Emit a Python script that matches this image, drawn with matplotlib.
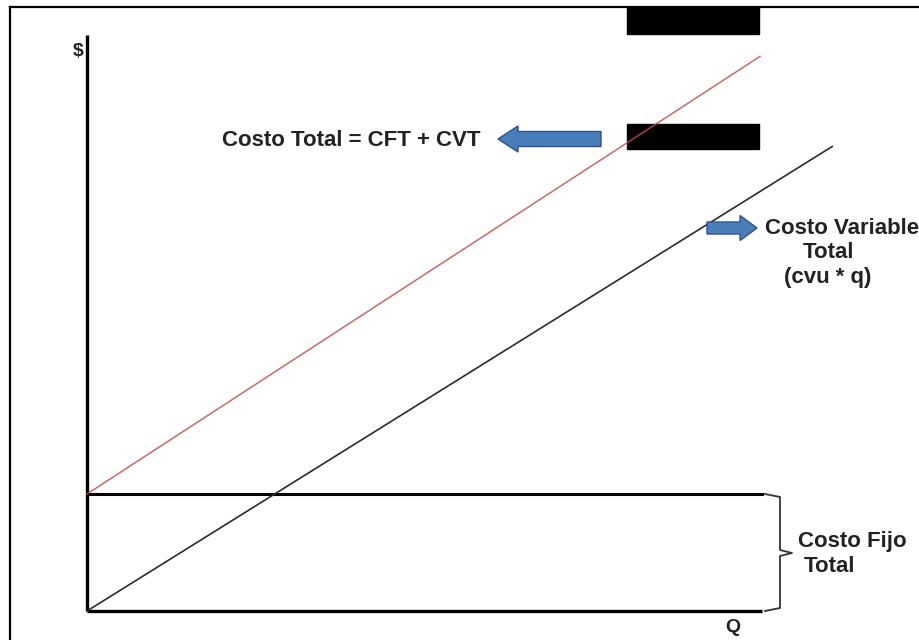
import matplotlib.pyplot as plt
from matplotlib.patches import FancyArrow, Rectangle
from matplotlib.lines import Line2D

# quantities and costs (q in units, $ in units)
q_max = 10.0
y_max = 49.2
cf_total = 10.0
ct_q = [0.0, 9.97]
ct_val = [10.0, 47.4]
cvt_q = [0.0, 11.04]
cvt_val = [0.0, 39.7]

label_ct = "Costo Total = CFT + CVT"
label_cvt = ["Costo Variable", "Total", "(cvu * q)"]
label_cf = ["Costo Fijo", "Total"]

# pixel layout of the diagram
W, H = 920, 640
x0_px, y0_px = 87, 611
px_per_q, px_per_d = 67.5, 11.7

plt.rcParams['font.family'] = ['Liberation Sans', 'DejaVu Sans']
fig = plt.figure(figsize=(W / 100, H / 100), dpi=100)
ax = fig.add_axes([0, 0, 1, 1])
ax.set_xlim(-x0_px / px_per_q, (W - x0_px) / px_per_q)
ax.set_ylim((y0_px - H) / px_per_d, y0_px / px_per_d)
ax.axis('off')

def qx(px):
    return (px - x0_px) / px_per_q

def dy(py):
    return (y0_px - py) / px_per_d

# outer frame
fig.add_artist(Line2D([10 / W, 10 / W], [0, 1 - 7 / H], color='black', lw=1.6))
fig.add_artist(Line2D([10 / W, 1], [1 - 7 / H, 1 - 7 / H], color='black', lw=1.6))

# axes
ax.plot([0, 0], [0, y_max], color='black', lw=2.4, solid_capstyle='butt')
ax.plot([0, q_max], [0, 0], color='black', lw=2.4, solid_capstyle='butt')

# redaction boxes
ax.add_patch(Rectangle((qx(627), dy(34)), qx(759) - qx(627), dy(7) - dy(34),
                       color='black', zorder=2))
ax.add_patch(Rectangle((qx(627), dy(149)), qx(759) - qx(627), dy(124) - dy(149),
                       color='black', zorder=2))

# cost lines
ax.plot([0, q_max], [cf_total, cf_total], color='black', lw=2.2, zorder=3)
ax.plot(cvt_q, cvt_val, color='#2b2b2b', lw=1.2, zorder=3)
ax.plot(ct_q, ct_val, color='#c0504d', lw=1.1, alpha=0.85, zorder=4)

# block arrows
arrow_kw = dict(length_includes_head=True, facecolor='#4a7ebb', edgecolor='#2f528f',
                lw=1.0, zorder=5)
ax.add_patch(FancyArrow(qx(601), dy(139), qx(498) - qx(601), 0,
                        width=15 / px_per_d, head_width=26 / px_per_d,
                        head_length=20 / px_per_q, **arrow_kw))
ax.add_patch(FancyArrow(qx(707), dy(228), qx(757) - qx(707), 0,
                        width=12 / px_per_d, head_width=25 / px_per_d,
                        head_length=17 / px_per_q, **arrow_kw))

# brace for fixed cost
bx, bt = qx(780), qx(792)
b_top, b_bot, b_mid = dy(494), dy(611), dy(553)
ax.plot([qx(765), bx, bx, bt, bx, bx, qx(765)],
        [b_top, dy(497), dy(550), b_mid, dy(556), dy(608), b_bot],
        color='#333333', lw=1.3)

txt = dict(fontsize=16, fontweight='bold', color='#222222')
ax.text(qx(222), dy(140), label_ct, ha='left', va='center', **txt)
ax.text(qx(765), dy(229), label_cvt[0], ha='left', va='center', **txt)
ax.text(qx(829), dy(253), label_cvt[1], ha='center', va='center', **txt)
ax.text(qx(828), dy(278), label_cvt[2], ha='center', va='center', **txt)
ax.text(qx(798), dy(541), label_cf[0], ha='left', va='center', **txt)
ax.text(qx(804), dy(566), label_cf[1], ha='left', va='center', **txt)
small = dict(txt, fontsize=14)
ax.text(qx(78), dy(52), "$", ha='center', va='center', **small)
ax.text(qx(733), dy(628), "Q", ha='center', va='center', **small)

fig.savefig("out.png", dpi=100)
